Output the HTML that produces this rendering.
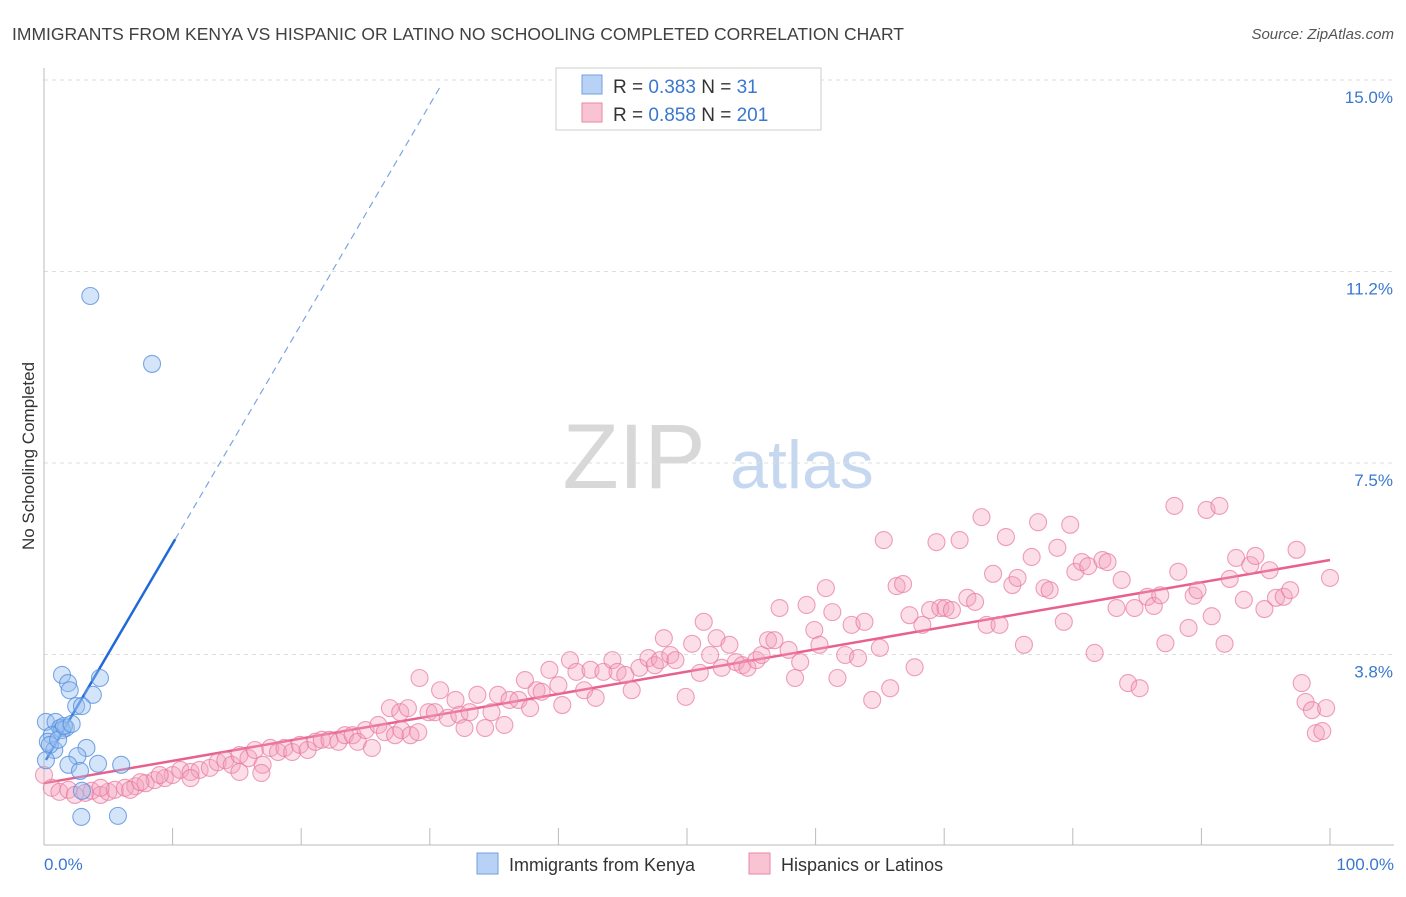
<!DOCTYPE html>
<html><head><meta charset="utf-8"><style>
body{margin:0;background:#fff;font-family:"Liberation Sans",sans-serif;}
svg text{font-family:"Liberation Sans",sans-serif;}
</style></head><body>
<svg id="chart" width="1406" height="892" viewBox="0 0 1406 892" xmlns="http://www.w3.org/2000/svg">
<text x="12" y="40" font-size="17.5" fill="#404040">IMMIGRANTS FROM KENYA VS HISPANIC OR LATINO NO SCHOOLING COMPLETED CORRELATION CHART</text>
<text x="1394" y="39" font-size="15" fill="#555" font-style="italic" text-anchor="end">Source: ZipAtlas.com</text>
<g>
<text x="634" y="488" font-size="92" fill="#d8d8d8" font-family="Liberation Serif" text-anchor="middle" font-family="serif">ZIP</text>
<text x="802" y="488" font-size="68" fill="#c6d8f0" text-anchor="middle">atlas</text>
</g>
<g id="grid"></g>
<g id="axes"></g>
<g id="trends"></g>
<g id="pts"></g>
<text transform="translate(34,456) rotate(-90)" font-size="17" fill="#333" text-anchor="middle">No Schooling Completed</text>
<text x="44" y="870" font-size="17" fill="#3a78d0">0.0%</text>
<text x="1394" y="870" font-size="17" fill="#3a78d0" text-anchor="end">100.0%</text>
<g>
<rect x="556" y="68" width="265" height="62" fill="#fff" stroke="#ccc"/>
<rect x="582" y="75" width="20" height="19" fill="#b8d2f5" stroke="#6fa0e0"/>
<rect x="582" y="103" width="20" height="19" fill="#f8c4d4" stroke="#e887a6"/>
<text x="613" y="93" font-size="19" fill="#333">R = <tspan fill="#3a78d0">0.383</tspan>   N =  <tspan fill="#3a78d0"> 31</tspan></text>
<text x="613" y="121" font-size="19" fill="#333">R = <tspan fill="#3a78d0">0.858</tspan>   N = <tspan fill="#3a78d0">201</tspan></text>
</g>
<g>
<rect x="477" y="853" width="21" height="21" fill="#b8d2f5" stroke="#6fa0e0"/>
<text x="509" y="871" font-size="18" fill="#333">Immigrants from Kenya</text>
<rect x="749" y="853" width="21" height="21" fill="#f8c4d4" stroke="#e887a6"/>
<text x="781" y="871" font-size="18" fill="#333">Hispanics or Latinos</text>
</g>
</svg>
<script>
const yTicks=[3.75,7.5,11.25,15];
const yTickLabels=["3.8%","7.5%","11.2%","15.0%"];
const xTicks=[0,10,20,30,40,50,60,70,80,90,100];
const blueX=[3.6,8.4,1.4,1.87,2.0,4.35,3.8,2.5,2.95,0.15,0.9,1.25,1.7,1.4,0.6,0.3,0.8,3.3,2.6,1.9,4.2,6.0,2.8,2.95,2.9,5.75,0.45,1.1,1.55,2.15,0.15];
const blueY=[10.77,9.44,3.35,3.19,3.05,3.29,2.96,2.74,2.74,2.43,2.43,2.31,2.31,2.27,2.17,2.04,1.88,1.92,1.76,1.59,1.61,1.59,1.47,1.08,0.57,0.59,1.98,2.08,2.35,2.39,1.68];
const pinkX=[0.6,1.2,1.9,2.4,3.2,3.7,4.4,5.0,5.5,6.3,7.1,7.9,8.6,9.4,10.0,10.6,11.4,12.1,12.9,13.5,14.1,14.6,15.2,15.9,16.4,17.0,17.6,18.2,18.7,19.3,19.9,20.5,21.1,21.6,22.2,22.9,23.4,24.0,24.4,25.0,25.5,26.0,26.5,27.3,27.8,28.5,29.1,26.9,27.7,29.2,28.3,29.9,30.4,30.8,31.4,32.0,32.3,32.7,33.1,33.7,34.3,34.8,35.3,35.8,36.2,36.9,37.4,37.8,38.3,38.7,39.3,40.0,40.3,40.9,41.4,42.0,42.5,42.9,43.5,44.2,44.6,45.2,45.7,46.3,47.0,47.5,47.9,48.2,48.7,49.1,49.9,50.4,51.0,51.3,51.8,52.3,52.7,53.3,53.8,54.3,54.7,55.4,55.8,56.3,56.8,57.2,57.9,58.4,58.8,59.3,59.9,60.3,60.8,61.3,61.7,62.3,62.8,63.3,63.8,64.4,65.0,65.3,65.8,66.3,66.8,67.3,67.7,68.3,68.9,69.4,69.7,70.1,70.6,71.2,71.8,72.4,72.9,73.3,73.8,74.3,74.8,75.3,75.7,76.2,76.8,77.3,77.8,78.2,78.8,79.3,79.8,80.2,80.7,81.2,81.7,82.3,82.7,83.4,83.8,84.3,84.8,85.2,85.8,86.3,86.8,87.2,87.9,88.2,89.0,89.4,89.7,90.4,90.8,91.4,91.8,92.2,92.7,93.3,93.8,94.2,94.9,95.3,95.8,96.4,96.9,97.4,97.8,98.1,98.6,98.9,99.4,99.7,100.0,0.0,4.4,6.7,7.5,9.0,11.4,15.2,16.9];
const pinkY=[1.14,1.06,1.10,1.00,1.04,1.08,1.00,1.06,1.10,1.14,1.17,1.23,1.29,1.33,1.39,1.49,1.45,1.49,1.53,1.64,1.68,1.59,1.78,1.72,1.88,1.59,1.92,1.84,1.92,1.84,1.98,1.88,2.04,2.08,2.08,2.04,2.17,2.17,2.04,2.27,1.92,2.37,2.23,2.17,2.27,2.17,2.23,2.70,2.62,3.29,2.70,2.62,2.62,3.05,2.51,2.86,2.57,2.31,2.62,2.96,2.31,2.62,2.96,2.37,2.86,2.86,3.25,2.70,3.05,3.02,3.45,3.15,2.76,3.64,3.41,3.05,3.45,2.90,3.41,3.64,3.41,3.35,3.05,3.49,3.68,3.54,3.64,4.07,3.74,3.64,2.92,3.96,3.39,4.39,3.74,4.07,3.49,3.94,3.60,3.54,3.49,3.64,3.74,4.03,4.03,4.66,3.84,3.29,3.60,4.72,4.23,3.94,5.05,4.58,3.29,3.74,4.33,3.68,4.39,2.86,3.88,5.99,3.09,5.09,5.13,4.52,3.50,4.33,4.62,5.95,4.66,4.66,4.62,5.99,4.86,4.78,6.44,4.33,5.33,4.33,6.05,5.11,5.25,3.94,5.66,6.34,5.05,5.01,5.84,4.39,6.29,5.37,5.56,5.48,3.78,5.60,5.56,4.66,5.21,3.19,4.66,3.09,4.88,4.70,4.91,3.97,6.66,5.37,4.27,4.90,5.01,6.58,4.50,6.66,3.96,5.23,5.64,4.82,5.50,5.68,4.64,5.40,4.86,4.88,5.01,5.80,3.19,2.82,2.66,2.21,2.25,2.70,5.25,1.39,1.14,1.10,1.25,1.39,1.33,1.45,1.43];
const blueFit=[1.62,0.43]; const blueSolidEnd=10.2; const blueDashEnd=30.8;
const pinkFit=[1.23,0.0437];
const NS="http://www.w3.org/2000/svg";
const X0=44,X1=1330,Y0=846,Y15=80;
const sx=v=>X0+(X1-X0)*v/100;
const sy=v=>Y0-(Y0-Y15)*v/15;
function mk(tag,attrs,parent){const e=document.createElementNS(NS,tag);for(const k in attrs)e.setAttribute(k,attrs[k]);parent.appendChild(e);return e;}
const grid=document.getElementById('grid'),axes=document.getElementById('axes'),trends=document.getElementById('trends'),pts=document.getElementById('pts');
yTicks.forEach((t,i)=>{
 const l=mk('line',{x1:44,x2:1394,y1:sy(t),y2:sy(t),stroke:'#ddd','stroke-dasharray':'4,4'},grid);
 
 
 const tx=mk('text',{x:1393,y:sy(t)+23,'font-size':17,fill:'#3a78d0','text-anchor':'end'},grid);
 tx.textContent=yTickLabels[i];
 
 
});
const ax=mk('line',{x1:44,x2:1394,y1:845,y2:845,stroke:'#bbb'},axes);


const ay=mk('line',{x1:44,x2:44,y1:68,y2:845,stroke:'#bbb'},axes);


xTicks.forEach(t=>{
 const l=mk('line',{x1:sx(t),x2:sx(t),y1:828,y2:845,stroke:'#bbb'},axes);
 
 
});
function drawPts(xs,ys,fill,stroke,name){
 xs.forEach((x,i)=>{
  const c=mk('circle',{cx:sx(x),cy:sy(ys[i]),r:8.5,fill:fill,stroke:stroke,'stroke-width':1.1},pts);
  
  
 });
}
drawPts(pinkX,pinkY,'rgba(244,160,188,0.35)','rgba(232,120,158,0.7)','hispanic-point');
drawPts(blueX,blueY,'rgba(150,190,240,0.4)','rgba(80,140,220,0.75)','kenya-point');
const fy=(f,x)=>f[0]+f[1]*x;
const pl=mk('line',{x1:sx(0),y1:sy(fy(pinkFit,0)),x2:sx(100),y2:sy(fy(pinkFit,100)),stroke:'#e8608c','stroke-width':2.5},trends);


const bs=mk('line',{x1:sx(0.15),y1:sy(fy(blueFit,0.15)),x2:sx(blueSolidEnd),y2:sy(fy(blueFit,blueSolidEnd)),stroke:'#1f6ad8','stroke-width':2.5},trends);


const bd=mk('line',{x1:sx(blueSolidEnd),y1:sy(fy(blueFit,blueSolidEnd)),x2:sx(blueDashEnd),y2:sy(fy(blueFit,blueDashEnd)),stroke:'#7aa6e0','stroke-width':1.2,'stroke-dasharray':'7,5'},trends);


</script>
</body></html>
